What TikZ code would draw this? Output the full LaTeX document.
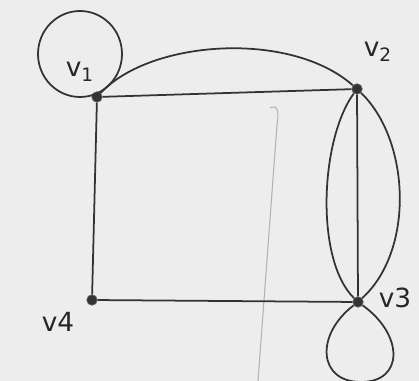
\documentclass[tikz,border=0pt]{standalone}
\usepackage{fontspec}
\setmainfont{DejaVu Sans}
\begin{document}
\begin{tikzpicture}[x=0.02cm,y=-0.02cm,
  pen/.style={draw=black!80,line width=1pt},
  vtx/.style={circle,fill=black!80,draw=black!60,inner sep=0pt,minimum size=6pt},
  lbl/.style={text=black!85,font=\fontsize{15}{17}\selectfont}]
\fill[black!7] (0,0) rectangle (419,381);
\useasboundingbox (0,0) rectangle (419,381);
% faint pencil line from the back of the sheet
\draw[black!30,line width=0.6pt] (270,108) .. controls (278,104) and (279,112) .. (277,125) -- (258,381);
% vertices
\node[vtx] (v1) at (97,97) {};
\node[vtx] (v2) at (357,89) {};
\node[vtx] (v3) at (358,302) {};
\node[vtx] (v4) at (92,300) {};
% labels
\node[lbl] (l1) at (80,72) {v\textsubscript{1}};
\node[lbl] (l2) at (378,52) {v\textsubscript{2}};
\node[lbl] (l3) at (395,298) {v3};
\node[lbl] (l4) at (58,322) {v4};
% loop at v1
\draw[pen] (80,54) circle[x radius=42,y radius=43];
% edges
\draw[pen] (v1) -- (v2);
\draw[pen] (v1) .. controls (150,40) and (290,30) .. (v2);
\draw[pen] (v2) -- (v3);
\draw[pen] (v2) .. controls (320,140) and (315,260) .. (v3);
\draw[pen] (v2) .. controls (410,140) and (415,250) .. (v3);
\draw[pen] (v3) -- (v4);
\draw[pen] (v4) -- (v1);
% loop at v3
\coordinate (b3) at (361,382);
\draw[pen] (v3) .. controls (315,335) and (318,382) .. (b3) .. controls (404,382) and (404,335) .. (v3);
\end{tikzpicture}
\end{document}
